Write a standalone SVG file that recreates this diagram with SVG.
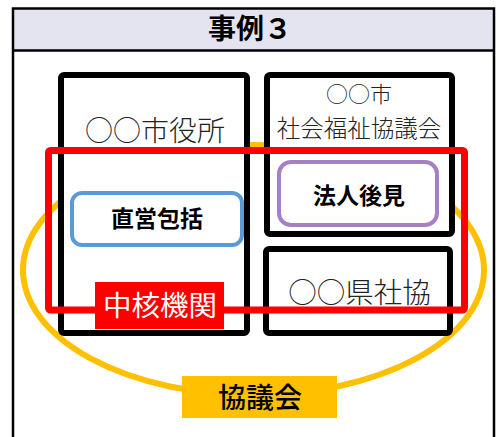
<svg xmlns="http://www.w3.org/2000/svg" width="497" height="437" viewBox="0 0 497 437">
<style>
.jp{font-family:"Noto Sans CJK JP","Noto Sans",sans-serif;text-anchor:middle}
.box{fill:#fff;stroke:#000;stroke-width:6}
.thin{font-weight:300;fill:#222}
.b{font-weight:bold;fill:#000}
</style>
<rect x="0" y="0" width="497" height="437" fill="#fff"/>
<g id="frame">
<rect x="13" y="8.5" width="481" height="42" fill="#E4E4F0"/>
<path d="M13 437 V8.5 H494 V437 M13 50.5 H494" fill="none" stroke="#000" stroke-width="2.5"/>
<text class="jp b" x="250" y="39" font-size="28">事例３</text>
</g>
<g id="kyogikai-ring">
<ellipse cx="253.5" cy="270" rx="230.5" ry="125" fill="none" stroke="#FFC000" stroke-width="6"/>
</g>
<g id="shiyakusho">
<rect class="box" x="61" y="75" width="186" height="258" rx="3"/>
<text class="jp thin" x="155" y="141" font-size="28">○○市役所</text>
</g>
<g id="shakyo">
<rect class="box" x="267" y="75" width="185" height="159" rx="3"/>
<text class="jp thin" x="359" y="102" font-size="22">○○市</text>
<text class="jp thin" x="359" y="137" font-size="23.5">社会福祉協議会</text>
</g>
<g id="kenshakyo">
<rect class="box" x="266" y="249" width="184" height="84" rx="3"/>
<text class="jp thin" x="359.5" y="303" font-size="28.5">○○県社協</text>
</g>
<g id="chukaku">
<rect x="48.5" y="150.5" width="416" height="159.5" rx="2" fill="none" stroke="#FF0000" stroke-width="7"/>
</g>
<g id="chokuei">
<rect x="72" y="193" width="170" height="52" rx="10" fill="#fff" stroke="#5B9BD5" stroke-width="4"/>
<text class="jp b" x="157" y="227" font-size="23">直営包括</text>
</g>
<g id="hojin">
<rect x="279" y="162" width="158" height="63" rx="12" fill="#fff" stroke="#A680C6" stroke-width="4"/>
<text class="jp b" x="359" y="203.5" font-size="23">法人後見</text>
</g>
<g id="chukaku-label">
<rect x="95" y="282" width="129" height="47" fill="#FF0000"/>
<text class="jp" x="160" y="316" font-size="28.5" fill="#fff">中核機関</text>
</g>
<g id="kyogikai-label">
<rect x="182" y="376" width="155" height="42" fill="#FFC000"/>
<text class="jp" x="260" y="407.5" font-size="28" fill="#000" font-weight="500">協議会</text>
</g>
</svg>
